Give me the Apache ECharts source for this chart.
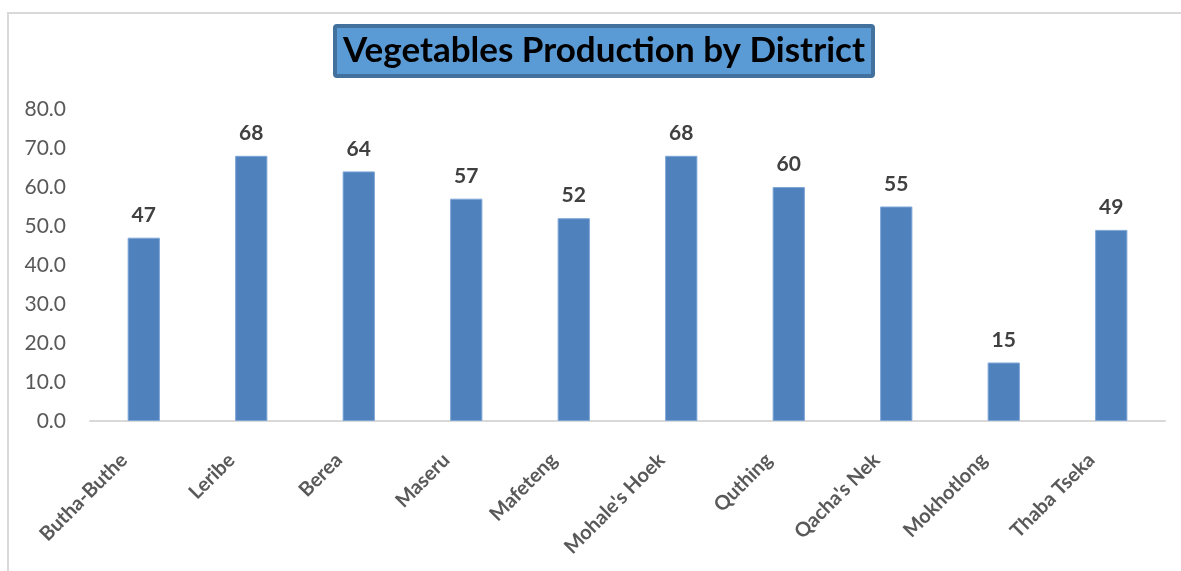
<!DOCTYPE html>
<html>
<head>
<meta charset="utf-8">
<script src="https://cdn.jsdelivr.net/npm/echarts@6/dist/echarts.min.js"></script>
<style>
  html, body { margin: 0; padding: 0; background: #ffffff; }
  #chart { width: 1181px; height: 571px; }
</style>
</head>
<body>
<div id="chart"></div>
<script>
// District names along the category axis
const districts = ['Butha-Buthe', 'Leribe', 'Berea', 'Maseru', 'Mafeteng',
  "Mohale's Hoek", 'Quthing', "Qacha's Nek", 'Mokhotlong', 'Thaba Tseka'];

// Vegetables production per district
const production = [47, 68, 64, 57, 52, 68, 60, 55, 15, 49];

// Value axis range and step
const yMin = 0;
const yMax = 80;
const yStep = 10;

const FONT = 'Lato, "Open Sans", sans-serif';

const chart = echarts.init(document.getElementById('chart'), null, { renderer: 'canvas' });

chart.setOption({
  backgroundColor: '#ffffff',
  animation: false,
  title: {
    text: 'Vegetables Production by District',
    left: 335,
    top: 26,
    padding: [6, 8, 6, 8],
    backgroundColor: '#5B9BD5',
    borderColor: '#41719C',
    borderWidth: 4,
    borderRadius: 2,
    textStyle: {
      fontFamily: FONT,
      fontWeight: 'bold',
      fontSize: 35,
      color: '#000000',
      lineHeight: 38
    }
  },
  graphic: [{
    type: 'rect',
    z: -1,
    shape: { x: 8, y: 13, width: 1200, height: 600 },
    style: { fill: 'none', stroke: '#D9D9D9', lineWidth: 2 },
    silent: true
  }],
  grid: {
    left: 90,
    right: 16,
    top: 109,
    bottom: 150,
    containLabel: false
  },
  xAxis: {
    type: 'category',
    data: districts,
    axisLine: { show: true, lineStyle: { color: '#D9D9D9', width: 2 } },
    axisTick: { show: false },
    axisLabel: {
      interval: 0,
      rotate: 45,
      margin: 16,
      padding: [0, 28, 0, 0],
      fontFamily: FONT,
      fontWeight: 'bold',
      fontSize: 20,
      color: '#595959'
    }
  },
  yAxis: {
    type: 'value',
    min: yMin,
    max: yMax,
    interval: yStep,
    axisLine: { show: false },
    axisTick: { show: false },
    splitLine: { show: false },
    axisLabel: {
      margin: 24,
      fontFamily: FONT,
      fontSize: 21,
      color: '#595959',
      formatter: v => v.toFixed(1)
    }
  },
  series: [{
    type: 'bar',
    data: production,
    barWidth: '30%',
    itemStyle: {
      color: '#4F81BD',
      borderColor: '#7EA6D6',
      borderWidth: 1
    },
    label: {
      show: true,
      position: 'top',
      distance: 12,
      fontFamily: FONT,
      fontWeight: 'bold',
      fontSize: 21,
      color: '#404040'
    }
  }]
});
</script>
</body>
</html>
